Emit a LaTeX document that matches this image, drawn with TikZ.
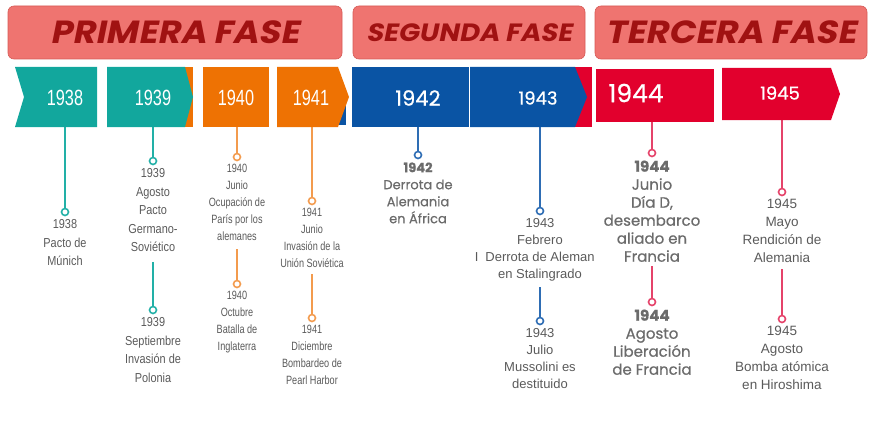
\documentclass[tikz,border=0pt]{standalone}
\usepackage{fontspec}
\usepackage{tikz}
\usepackage{xcolor}
\usetikzlibrary{positioning,backgrounds}
\setmainfont{Liberation Sans}
\newfontfamily\narrowfont[FakeStretch=0.84]{Liberation Sans}
\newfontfamily\slimfont[FakeStretch=0.76]{Liberation Sans}
\newfontfamily\yearfont[FakeStretch=0.74]{Liberation Sans}
\newfontfamily\roundfont[FakeBold=0.6]{Poppins}
\newfontfamily\phasefont[FakeSlant=0.2,FakeStretch=1.1]{Poppins}
\definecolor{phasefill}{HTML}{EF7470}
\definecolor{phasedraw}{HTML}{D65A56}
\definecolor{phasetext}{HTML}{A01212}
\definecolor{tealbox}{HTML}{12A79D}
\definecolor{orangebox}{HTML}{EE7203}
\definecolor{bluebox}{HTML}{0A54A4}
\definecolor{redbox}{HTML}{E2002D}
\definecolor{tealline}{HTML}{22B0A7}
\definecolor{orangeline}{HTML}{F39B4E}
\definecolor{blueline}{HTML}{2E6DB4}
\definecolor{redline}{HTML}{E5436A}
\definecolor{evtext}{HTML}{5A5A5A}

\begin{document}
\begin{tikzpicture}[x=1pt, y=-1pt,
    phase/.style={draw=phasedraw, fill=phasefill, rounded corners=6pt, line width=0.6pt,
        text=phasetext, font=\phasefont\bfseries\fontsize{32}{32}\selectfont},
    yearlbl/.style={text=white, inner sep=0pt, font=\yearfont\fontsize{22}{22}\selectfont},
    yearwide/.style={text=white, inner sep=0pt, font=\roundfont\fontsize{#1}{#1}\selectfont},
    dot/.style={circle, draw=#1, fill=white, line width=1.6pt, inner sep=0pt, minimum size=7pt},
    evline/.style={draw=#1, line width=1.6pt},
    evbase/.style={align=center, inner sep=0pt, text=evtext, below=3pt of #1},
    evnarrow/.style={evbase=#1, font=\narrowfont\fontsize{13}{18.5}\selectfont},
    evslim/.style={evbase=#1, font=\slimfont\fontsize{12}{17}\selectfont},
    evplain/.style={evbase=#1, font=\fontsize{13}{17}\selectfont},
    evround/.style={evbase=#1, text=evtext!90, font=\roundfont\fontsize{13}{17}\selectfont}]
    \useasboundingbox (0,0) rectangle (870,428);
    % Phases
    \node[phase, minimum width=334pt, minimum height=53pt] (ph1) at (175,32.5) {PRIMERA FASE};
    \node[phase, minimum width=232pt, minimum height=53pt, font=\phasefont\bfseries\fontsize{25}{25}\selectfont] (ph2) at (469,32.5) {SEGUNDA FASE};
    \node[phase, minimum width=272pt, minimum height=53pt] (ph3) at (731,32.5) {TERCERA FASE};
    % Year boxes
    \fill[tealbox] (15,67) -- (97,67) -- (97,127) -- (15,127) -- (24,97) -- cycle;
    \fill[orangebox] (185,67) rectangle (193,127);
    \fill[tealbox] (107,67) -- (185,67) -- (193,97) -- (185,127) -- (107,127) -- cycle;
    \fill[orangebox] (203,67) rectangle (269,127);
    \fill[bluebox] (338,100) rectangle (346,125);
    \fill[orangebox] (277,67) -- (338,67) -- (349,97) -- (338,127) -- (277,127) -- cycle;
    \fill[bluebox] (352,67) rectangle (469,127);
    \fill[redbox] (575,67) rectangle (592,127);
    \fill[bluebox] (470,67) -- (575,67) -- (587,97) -- (575,127) -- (470,127) -- cycle;
    \fill[redbox] (596,69) rectangle (714,122);
    \fill[redbox] (722,68) -- (831,68) -- (840,94) -- (831,120) -- (722,120) -- cycle;
    \node[yearlbl] (y1938) at (65,98) {1938};
    \node[yearlbl] (y1939) at (153,98) {1939};
    \node[yearlbl] (y1940) at (236,98) {1940};
    \node[yearlbl] (y1941) at (311,98) {1941};
    \node[yearwide=21] (y1942) at (418,98) {1942};
    \node[yearwide=18] (y1943) at (538,98) {1943};
    \node[yearwide=25] (y1944) at (636,93) {1944};
    \node[yearwide=18] (y1945) at (780,93) {1945};
    % Dots
    \node[dot=tealline] (c38a) at (65,212) {};
    \node[dot=tealline] (c39a) at (153,161) {};
    \node[dot=tealline] (c39b) at (153,310) {};
    \node[dot=orangeline] (c40a) at (237,157) {};
    \node[dot=orangeline] (c40b) at (237,284) {};
    \node[dot=orangeline] (c41a) at (312,201) {};
    \node[dot=orangeline] (c41b) at (312,318) {};
    \node[dot=blueline] (c42a) at (418,155) {};
    \node[dot=blueline] (c43a) at (540,211) {};
    \node[dot=blueline] (c43b) at (540,321) {};
    \node[dot=redline] (c44a) at (652,153) {};
    \node[dot=redline] (c44b) at (652,302) {};
    \node[dot=redline] (c45a) at (782,192) {};
    \node[dot=redline] (c45b) at (782,319) {};
    % Events
    \node[evnarrow=c38a] (e38a) {1938\\Pacto de\\Múnich};
    \node[evnarrow=c39a] (e39a) {1939\\Agosto\\Pacto\\Germano-\\Soviético};
    \node[evnarrow=c39b] (e39b) {1939\\Septiembre\\Invasión de\\Polonia};
    \node[evslim=c40a] (e40a) {1940\\Junio\\Ocupación de\\París por los\\alemanes};
    \node[evslim=c40b] (e40b) {1940\\Octubre\\Batalla de\\Inglaterra};
    \node[evslim=c41a] (e41a) {1941\\Junio\\Invasión de la\\Unión Soviética};
    \node[evslim=c41b] (e41b) {1941\\Diciembre\\Bombardeo de\\Pearl Harbor};
    \node[evround=c42a] (e42a) {\textbf{1942}\\Derrota de\\Alemania\\en África};
    \node[evplain=c43a] (e43a) {1943\\Febrero\\\llap{I\hspace{7pt}}Derrota de Aleman\\en Stalingrado};
    \node[evplain=c43b] (e43b) {1943\\Julio\\Mussolini es\\destituido};
    \node[evround=c44a, font=\roundfont\fontsize{15}{18}\selectfont] (e44a) {\textbf{1944}\\Junio\\Día D,\\desembarco\\aliado en\\Francia};
    \node[evround=c44b, font=\roundfont\fontsize{15}{18}\selectfont] (e44b) {\textbf{1944}\\Agosto\\Liberación\\de Francia};
    \node[evplain=c45a, font=\fontsize{13.5}{18}\selectfont] (e45a) {1945\\Mayo\\Rendición de\\Alemania};
    \node[evplain=c45b, font=\fontsize{13.5}{18}\selectfont] (e45b) {1945\\Agosto\\Bomba atómica\\en Hiroshima};
    % Connectors
    \begin{scope}[on background layer]
        \path[evline=tealline] (c38a |- y1938) edge (c38a);
        \path[evline=tealline] (c39a |- y1939) edge (c39a);
        \path[evline=tealline, shorten <=10pt] (e39a) edge (c39b);
        \path[evline=orangeline] (c40a |- y1940) edge (c40a);
        \path[evline=orangeline, shorten <=8pt] (e40a) edge (c40b);
        \path[evline=orangeline] (c41a |- y1941) edge (c41a);
        \path[evline=orangeline, shorten <=6pt] (e41a) edge (c41b);
        \path[evline=blueline] (c42a |- y1942) edge (c42a);
        \path[evline=blueline] (c43a |- y1943) edge (c43a);
        \path[evline=blueline, shorten <=6pt] (e43a) edge (c43b);
        \path[evline=redline] (c44a |- y1944) edge (c44a);
        \path[evline=redline, shorten <=4pt] (e44a) edge (c44b);
        \path[evline=redline] (c45a |- y1945) edge (c45a);
        \path[evline=redline, shorten <=6pt] (e45a) edge (c45b);
    \end{scope}
\end{tikzpicture}
\end{document}
